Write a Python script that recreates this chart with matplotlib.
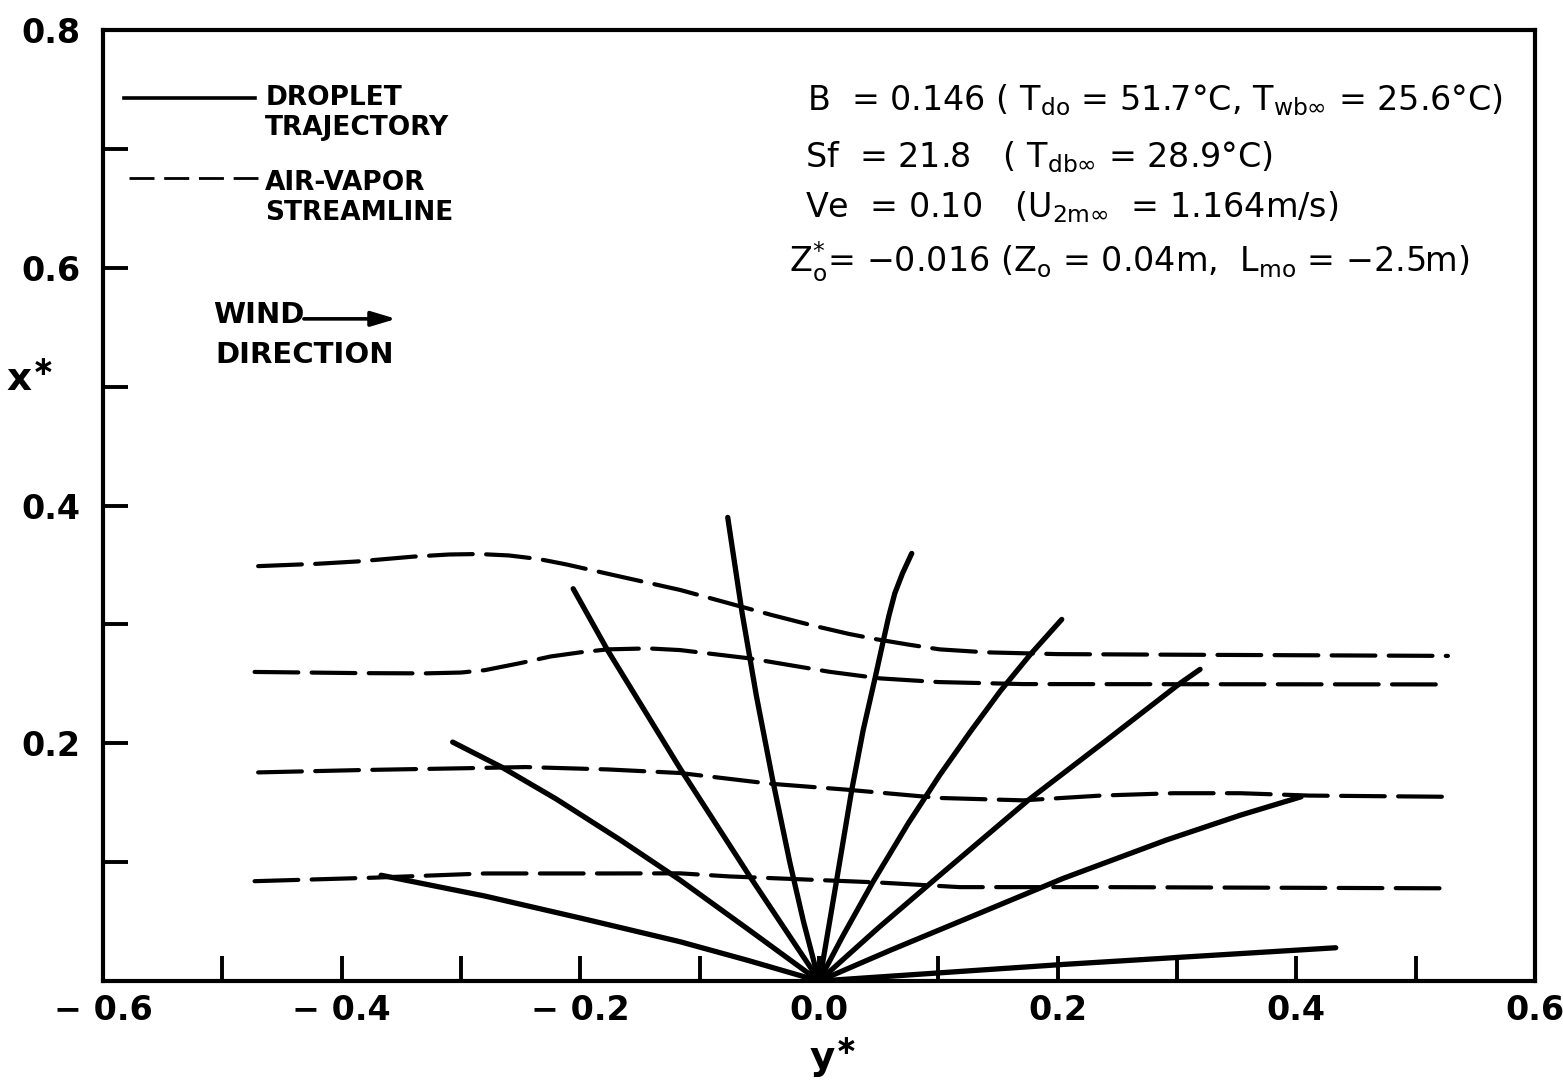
import matplotlib
matplotlib.use("Agg")
import matplotlib.pyplot as plt

plt.rcParams['font.family'] = ['DejaVu Sans']
plt.rcParams['mathtext.fontset'] = 'dejavusans'
plt.rcParams['mathtext.default'] = 'regular'

# Droplet trajectories, each starting at the origin: lateral y* and downwind x*
traj_y = [
    [0.0, -0.060, -0.1165, -0.200, -0.280, -0.367],
    [0.0, -0.060, -0.1165, -0.167, -0.220, -0.266, -0.307],
    [0.0, -0.0075, -0.058, -0.1165, -0.177, -0.206],
    [0.0, -0.013, -0.0245, -0.039, -0.0525, -0.0645, -0.0765],
    [0.0, 0.003, 0.0148, 0.0274, 0.037, 0.047, 0.054, 0.0585, 0.0635, 0.070, 0.0777],
    [0.0, 0.020, 0.045, 0.075, 0.101, 0.127, 0.152, 0.177, 0.2034],
    [0.0, 0.050, 0.100, 0.1754, 0.2411, 0.3025, 0.3193],
    [0.0, 0.060, 0.120, 0.2047, 0.291, 0.353, 0.404],
    [0.0, 0.205, 0.433],
]
traj_x = [
    [0.0, 0.0175, 0.0331, 0.053, 0.0715, 0.089],
    [0.0, 0.044, 0.085, 0.119, 0.153, 0.180, 0.201],
    [0.0, 0.012, 0.088, 0.179, 0.278, 0.330],
    [0.0, 0.050, 0.100, 0.170, 0.240, 0.310, 0.390],
    [0.0, 0.015, 0.085, 0.1606, 0.211, 0.255, 0.2868, 0.307, 0.3261, 0.343, 0.3597],
    [0.0, 0.038, 0.083, 0.133, 0.173, 0.210, 0.244, 0.2746, 0.3042],
    [0.0, 0.045, 0.088, 0.1522, 0.2027, 0.2504, 0.2622],
    [0.0, 0.026, 0.051, 0.0864, 0.1186, 0.1395, 0.155],
    [0.0, 0.014, 0.028],
]

# Air-vapor streamlines
stream_y = [
    [-0.470, -0.420, -0.386, -0.340, -0.310, -0.285, -0.260, -0.235, -0.212, -0.170,
     -0.1165, -0.080, -0.040, -0.005, 0.025, 0.048, 0.075, 0.101, 0.140, 0.200,
     0.300, 0.527],
    [-0.473, -0.383, -0.330, -0.300, -0.280, -0.250, -0.225, -0.200, -0.177, -0.143,
     -0.1165, -0.058, 0.009, 0.051, 0.100, 0.171, 0.527],
    [-0.470, -0.383, -0.297, -0.246, -0.177, -0.1165, -0.041, 0.023, 0.101, 0.171,
     0.236, 0.297, 0.353, 0.411, 0.527],
    [-0.473, -0.372, -0.280, -0.177, -0.1165, -0.075, 0.048, 0.118, 0.240, 0.527],
]
stream_x = [
    [0.349, 0.351, 0.353, 0.357, 0.3588, 0.3592, 0.358, 0.355, 0.3505, 0.341,
     0.329, 0.319, 0.308, 0.299, 0.292, 0.2875, 0.283, 0.279, 0.2765, 0.275,
     0.2745, 0.2735],
    [0.260, 0.259, 0.2588, 0.2595, 0.2615, 0.2675, 0.273, 0.2765, 0.279, 0.2798,
     0.2784, 0.2714, 0.2601, 0.2546, 0.2515, 0.2498, 0.2495],
    [0.1755, 0.1775, 0.179, 0.180, 0.178, 0.175, 0.166, 0.161, 0.154, 0.152,
     0.156, 0.158, 0.158, 0.156, 0.155],
    [0.084, 0.087, 0.0905, 0.0905, 0.0906, 0.088, 0.083, 0.079, 0.079, 0.078],
]

xtick_vals = [-0.6, -0.4, -0.2, 0.0, 0.2, 0.4, 0.6]
xtick_labels = ['\u2212 0.6', '\u2212 0.4', '\u2212 0.2', '0.0', '0.2', '0.4', '0.6']
ytick_vals = [0.2, 0.4, 0.6, 0.8]
ytick_labels = ['0.2', '0.4', '0.6', '0.8']

fig = plt.figure(figsize=(15.63, 10.82), dpi=100)
ax = fig.add_axes([0.0659, 0.0933, 0.9162, 0.879])
ax.set_xlim(-0.6, 0.6)
ax.set_ylim(0.0, 0.8)

for xs, ys in zip(traj_y, traj_x):
    ax.plot(xs, ys, color='black', lw=3.8, solid_capstyle='round',
            solid_joinstyle='round')

for xs, ys in zip(stream_y, stream_x):
    ax.plot(xs, ys, color='black', lw=3.0, linestyle=(0, (10.5, 3.2)),
            dash_capstyle='round')

for s in ax.spines.values():
    s.set_linewidth(3.0)

# Ticks every 0.1, labels every 0.2
ax.set_xticks(xtick_vals)
ax.set_xticklabels(xtick_labels)
ax.set_xticks([-0.5, -0.3, -0.1, 0.1, 0.3, 0.5], minor=True)
ax.set_yticks(ytick_vals)
ax.set_yticklabels(ytick_labels)
ax.set_yticks([0.1, 0.3, 0.5, 0.7], minor=True)
ax.tick_params(which='both', direction='in', length=18, width=2.8, labelsize=24)
ax.tick_params(axis='x', pad=9)
ax.tick_params(axis='y', pad=16)
for lbl in ax.get_xticklabels() + ax.get_yticklabels():
    lbl.set_fontweight('bold')

# Key for the two line types
lfs = 19
ax.plot([-0.582, -0.473], [0.7426, 0.7426], color='black', lw=2.6)
ax.text(-0.464, 0.7426, 'DROPLET', fontsize=lfs, fontweight='bold', va='center', ha='left')
ax.text(-0.464, 0.7174, 'TRAJECTORY', fontsize=lfs, fontweight='bold', va='center', ha='left')
ax.plot([-0.578, -0.470], [0.6754, 0.6754], color='black', lw=2.0, linestyle=(0, (9, 3.5)))
ax.text(-0.464, 0.671, 'AIR-VAPOR', fontsize=lfs, fontweight='bold', va='center', ha='left')
ax.text(-0.464, 0.646, 'STREAMLINE', fontsize=lfs, fontweight='bold', va='center', ha='left')

ax.text(-0.508, 0.560, 'WIND', fontsize=21, fontweight='bold', va='center', ha='left')
ax.annotate('', xy=(-0.352, 0.557), xytext=(-0.434, 0.557),
            arrowprops=dict(arrowstyle='-|>,head_length=1.5,head_width=0.45',
                            color='black', lw=2.6))
ax.text(-0.506, 0.5265, 'DIRECTION', fontsize=21, fontweight='bold', va='center', ha='left')

# Parameter block
pfs = 24
ax.text(-0.010, 0.741, r'B  = 0.146 ( T$_{do}$ = 51.7°C, T$_{wb\infty}$ = 25.6°C)',
        fontsize=pfs, va='center', ha='left')
ax.text(-0.012, 0.693, r'Sf  = 21.8   ( T$_{db\infty}$ = 28.9°C)',
        fontsize=pfs, va='center', ha='left')
ax.text(-0.012, 0.651, r'Ve  = 0.10   (U$_{2m\infty}$  = 1.164m/s)',
        fontsize=pfs, va='center', ha='left')
ax.text(-0.025, 0.605, 'Z$_o^{*}$= \u22120.016 (Z$_o$ = 0.04m,  L$_{mo}$ = \u22122.5m)',
        fontsize=pfs, va='center', ha='left')

fig.text(30 / 1563, 1 - 380 / 1082, r'x$^{\ast}$', fontsize=28, fontweight='bold',
         ha='center', va='center')
fig.text(833 / 1563, 1 - 1058 / 1082, r'y$^{\ast}$', fontsize=28, fontweight='bold',
         ha='center', va='center')

fig.savefig('out.png', dpi=100)
